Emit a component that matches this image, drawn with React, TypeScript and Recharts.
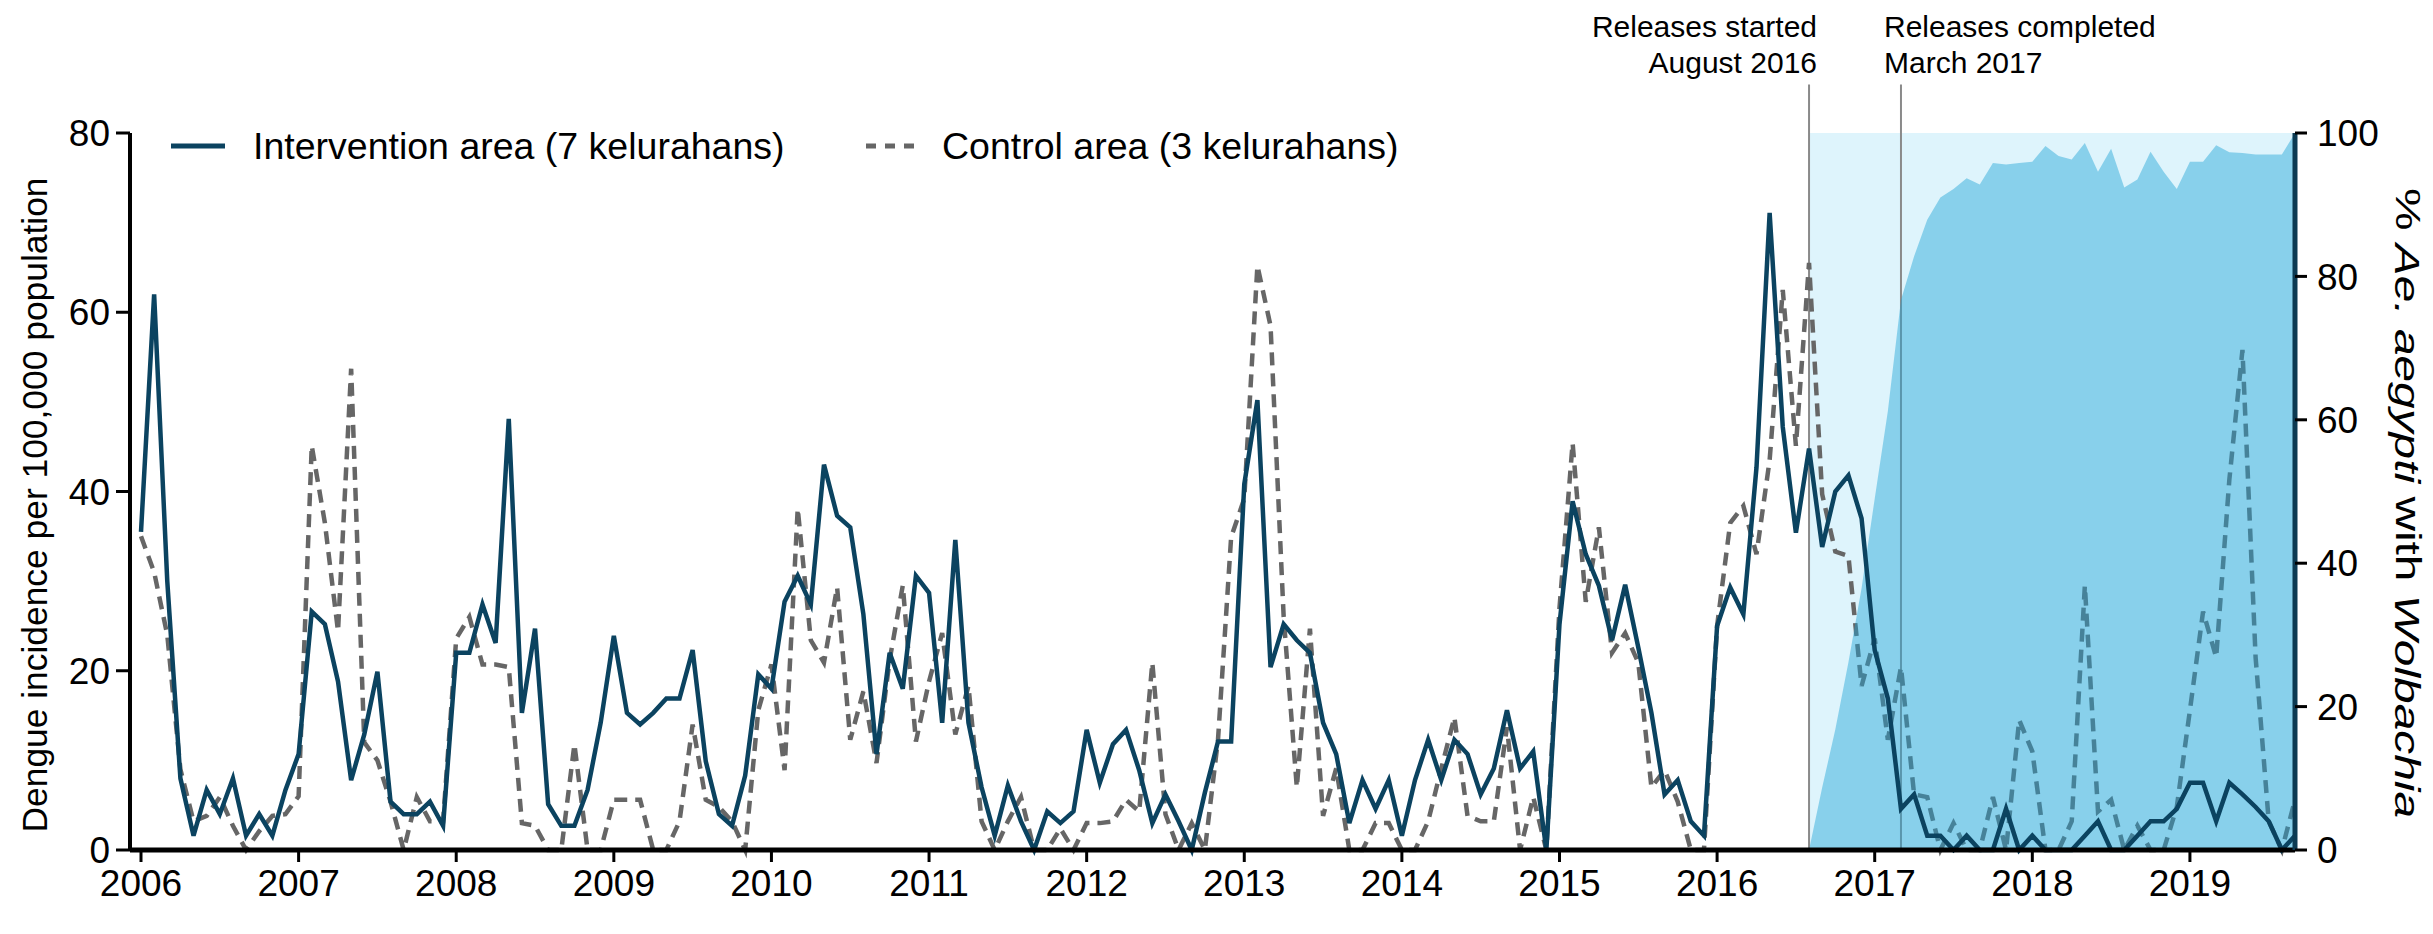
import React from 'react'
import {
  ComposedChart,
  Line,
  Area,
  XAxis,
  YAxis,
  ReferenceArea,
  ReferenceLine,
  Legend,
} from 'recharts'

// monthly series, Jan 2006 (index 0) to Sep 2019 (index 164)
const years = ['2006', '2007', '2008', '2009', '2010', '2011', '2012', '2013', '2014', '2015', '2016', '2017', '2018', '2019']

const intervention = [
  35.5, 62, 30, 8, 1.6, 6.7, 4, 8, 1.6, 4, 1.6, 6.7,
  10.7, 26.6, 25.2, 18.8, 7.8, 12.9, 19.9, 5.4, 4, 4, 5.4, 2.7,
  22, 22, 27.4, 23.1, 48.1, 15.3, 24.7, 5.1, 2.7, 2.7, 6.7, 14.2,
  23.9, 15.3, 14, 15.3, 16.9, 16.9, 22.3, 9.9, 4, 2.7, 8.3, 19.6,
  18, 27.7, 30.6, 27.4, 43, 37.3, 36, 26.3, 10.7, 22, 18, 30.6,
  28.7, 14.2, 34.6, 14.2, 7, 1.6, 7.2, 3.2, 0, 4.3, 3, 4.3,
  13.4, 7.5, 11.8, 13.4, 8.9, 3, 6.2, 3.2, 0, 6.4, 12.1, 12.1,
  40.8, 50.2, 20.4, 25.2, 23.4, 22, 14.2, 10.7, 3, 7.8, 4.6, 7.8,
  1.6, 7.8, 12.3, 7.8, 12.3, 10.7, 6.2, 9.1, 15.6, 9.1, 11, 0,
  25.2, 38.9, 33, 29.5, 23.4, 29.6, 22.6, 15.3, 6.2, 7.8, 3.2, 1.6,
  25, 29.3, 26.3, 42.7, 71.1, 47.2, 35.4, 44.8, 33.8, 40, 41.8, 37,
  22.3, 16.9, 4.6, 6.2, 1.6, 1.6, 0, 1.6, 0, 0, 4.6, 0,
  1.6, 0, 0, 0, 1.6, 3.2, 0, 0, 1.6, 3.2, 3.2, 4.6,
  7.5, 7.5, 3.2, 7.5, 6.2, 4.8, 3.2, 0, 1.6,
]

const control = [
  35, 31, 24, 9, 3.2, 3.8, 5.9, 2.7, 0, 2.1, 3.8, 4,
  6, 45.1, 36.5, 24.4, 53.7, 12, 10, 5.4, 0, 5.9, 3.2, 3.2,
  23.6, 26, 20.7, 20.7, 20.4, 3, 2.7, 0, 0, 11.8, 0, 0,
  5.6, 5.6, 5.6, 0, 0, 3.2, 14, 5.6, 4.8, 3.2, 0, 15.6,
  20.7, 8.9, 38.1, 23.4, 20.9, 29.3, 12.3, 17.7, 9.7, 21.2, 29.5, 12.1,
  18.8, 24.2, 12.9, 18.3, 3.2, 0, 3.2, 5.9, 0, 0, 2.4, 0,
  3, 3, 3.2, 5.6, 4.3, 20.9, 4, 0, 3, 0, 12.3, 34.9,
  39.2, 65.2, 58.5, 26, 7, 24.7, 3.8, 9.1, 0, 0, 3, 3,
  0, 0, 3.2, 9.1, 14.8, 3.8, 3.2, 3.2, 13.7, 0, 5.9, 0,
  27, 45.4, 27.7, 36, 22, 24.2, 20.9, 7, 8.9, 5.4, 0, 0,
  25, 36.5, 38.4, 33, 43.5, 62.5, 45.1, 65.5, 39.7, 33.3, 32.8, 18.3,
  23.6, 12.3, 20.4, 6.2, 5.9, 0, 3, 0, 0, 5.9, 0, 14.5,
  11, 0, 0, 3.2, 29.5, 4.3, 5.6, 0, 2.7, 0, 0, 4.8,
  15.6, 26.6, 21.5, 41.3, 55.8, 21.5, 3.2, 0, 5.6,
]

// % of Ae. aegypti with Wolbachia, from Aug 2016 (index 127)
const wolbachiaStart = 127
const wolbachia = [
  0, 8.7, 16.8, 26.2, 36.5, 49, 61.2, 76.7, 82.8, 87.9, 91, 92.2,
  93.7, 92.8, 95.8, 95.6, 95.8, 96, 98.2, 96.8, 96.3, 98.6, 94.6, 97.8,
  92.4, 93.5, 97.4, 94.6, 92.2, 96, 96, 98.3, 97.3, 97.2, 97, 97, 97, 100,
]

const releaseStarted = 127 // August 2016
const releaseCompleted = 134 // March 2017
const lastMonth = intervention.length - 1

const data = intervention.map((v, i) => ({
  m: i,
  intervention: v,
  control: control[i],
  wolbachia: i >= wolbachiaStart ? wolbachia[i - wolbachiaStart] : null,
}))

const FONT = '"Liberation Sans", Arial, Helvetica, sans-serif'
const NAVY = '#0b4360'
const GREY = '#666666'

// zero-height box so the legend does not push the plot down
function LegendBox() {
  const txt = { position: 'absolute' as const, top: 0, fontSize: 37.5, lineHeight: '50px', color: '#000', whiteSpace: 'nowrap' as const }
  return (
    <div style={{ position: 'relative', height: 0, width: 1300, fontFamily: FONT }}>
      <svg width={760} height={50} style={{ position: 'absolute', left: 0, top: 0 }}>
        <line x1={0} x2={54} y1={25} y2={25} stroke={NAVY} strokeWidth={5} />
        <line x1={695} x2={746} y1={25} y2={25} stroke={GREY} strokeWidth={5} strokeDasharray="10 9" />
      </svg>
      <span style={{ ...txt, left: 82 }}>Intervention area (7 kelurahans)</span>
      <span style={{ ...txt, left: 771 }}>Control area (3 kelurahans)</span>
    </div>
  )
}

function LeftTitle() {
  return (
    <text transform="translate(34,505) rotate(-90)" textAnchor="middle" dominantBaseline="central"
      fontSize={35} fontFamily={FONT} fill="#000" textLength={655} lengthAdjust="spacingAndGlyphs">
      Dengue incidence per 100,000 population
    </text>
  )
}

function RightTitle() {
  return (
    <text transform="translate(2408,503) rotate(90)" textAnchor="middle" dominantBaseline="central"
      fontSize={35} fontFamily={FONT} fill="#000" textLength={630} lengthAdjust="spacingAndGlyphs">
      % <tspan fontStyle="italic">Ae. aegypti</tspan> with <tspan fontStyle="italic">Wolbachia</tspan>
    </text>
  )
}

function ReleaseLabel(props: any) {
  const vb = props.viewBox || { x: 0, y: 85 }
  const { lines, side } = props
  const x = side === 'left' ? vb.x + 8 : vb.x - 17
  const anchor = side === 'left' ? 'end' : 'start'
  return (
    <text textAnchor={anchor} fontSize={30} fontFamily={FONT} fill="#000">
      <tspan x={x} y={vb.y - 48}>{lines[0]}</tspan>
      <tspan x={x} y={vb.y - 12}>{lines[1]}</tspan>
    </text>
  )
}

export default function App() {
  return (
    <div style={{ position: 'absolute', left: 0, top: 0, width: 2433, height: 934, background: '#fff' }}>
      <ComposedChart width={2433} height={934} data={data} margin={{ top: 133, right: 0, bottom: 0, left: 0 }}>
        <XAxis
          dataKey="m"
          type="number"
          domain={[0, lastMonth]}
          ticks={years.map((_, k) => k * 12)}
          tickFormatter={(v: number) => years[v / 12]}
          padding={{ left: 11, right: 0 }}
          height={84}
          axisLine={{ stroke: '#000', strokeWidth: 5 }}
          tickLine={{ stroke: '#000', strokeWidth: 3 }}
          tickSize={12}
          tickMargin={8}
          tick={{ fontSize: 37, fill: '#000', fontFamily: FONT }}
          interval={0}
        />
        <YAxis
          yAxisId="left"
          domain={[0, 80]}
          ticks={[0, 20, 40, 60, 80]}
          width={130}
          axisLine={{ stroke: '#000', strokeWidth: 4 }}
          tickLine={{ stroke: '#000', strokeWidth: 3 }}
          tickSize={14}
          tickMargin={6}
          tick={{ fontSize: 37, fill: '#000', fontFamily: FONT }}
          label={<LeftTitle />}
        />
        <YAxis
          yAxisId="right"
          orientation="right"
          domain={[0, 100]}
          ticks={[0, 20, 40, 60, 80, 100]}
          width={138}
          axisLine={{ stroke: '#0b3a52', strokeWidth: 5 }}
          tickLine={{ stroke: '#000', strokeWidth: 3 }}
          tickSize={12}
          tickMargin={10}
          tick={{ fontSize: 37, fill: '#000', fontFamily: FONT, textAnchor: 'start' }}
          label={<RightTitle />}
        />
        <ReferenceArea
          yAxisId="right"
          x1={releaseStarted}
          x2={lastMonth}
          y1={0}
          y2={100}
          fill="#def4fc"
          fillOpacity={1}
          stroke="none"
          zIndex={10}
        />
        <ReferenceLine
          yAxisId="left"
          segment={[{ x: releaseStarted, y: 0 }, { x: releaseStarted, y: 85.4 }]}
          ifOverflow="visible"
          stroke="#8a8a8a"
          strokeWidth={2}
          zIndex={20}
          label={<ReleaseLabel side="left" lines={['Releases started', 'August 2016']} />}
        />
        <ReferenceLine
          yAxisId="left"
          segment={[{ x: releaseCompleted, y: 0 }, { x: releaseCompleted, y: 85.4 }]}
          ifOverflow="visible"
          stroke="#8a8a8a"
          strokeWidth={2}
          zIndex={20}
          label={<ReleaseLabel side="right" lines={['Releases completed', 'March 2017']} />}
        />
        <Line
          yAxisId="left"
          dataKey="control"
          type="linear"
          stroke={GREY}
          strokeWidth={4.5}
          strokeDasharray="13 8"
          dot={false}
          activeDot={false}
          isAnimationActive={false}
          zIndex={30}
        />
        <Area
          yAxisId="right"
          dataKey="wolbachia"
          type="linear"
          stroke="none"
          fill="#1ea4d8"
          fillOpacity={0.45}
          dot={false}
          activeDot={false}
          isAnimationActive={false}
          zIndex={40}
        />
        <Line
          yAxisId="left"
          dataKey="intervention"
          type="linear"
          stroke={NAVY}
          strokeWidth={4.5}
          dot={false}
          activeDot={false}
          isAnimationActive={false}
          zIndex={50}
        />
        <Legend
          verticalAlign="top"
          align="left"
          content={() => <LegendBox />}
          wrapperStyle={{ top: 121, left: 171, width: 1300, height: 0 }}
        />
      </ComposedChart>
    </div>
  )
}
